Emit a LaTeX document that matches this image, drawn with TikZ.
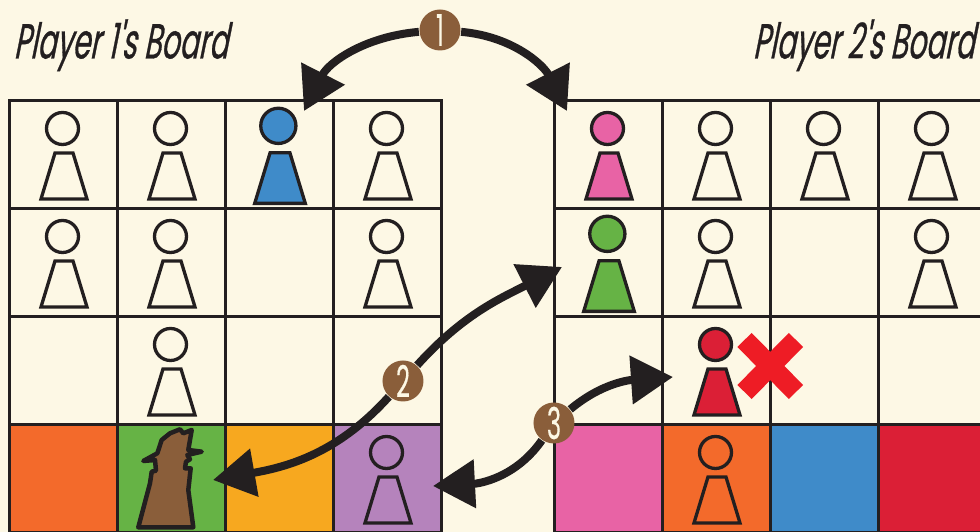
\documentclass[tikz,border=0pt]{standalone}
\usepackage{fontspec}
\usetikzlibrary{arrows.meta}
\newfontfamily\titlefont[FakeStretch=0.575,FakeSlant=0.2,FakeBold=0.6]{Poppins}
\newfontfamily\badgefont[FakeStretch=0.55,FakeBold=0.3]{Poppins}
\definecolor{paper}{HTML}{FDF8E5}
\definecolor{ink}{HTML}{231F20}
\definecolor{pawnblue}{HTML}{3F8BC9}
\definecolor{pawnpink}{HTML}{E863A5}
\definecolor{pawngreen}{HTML}{66B345}
\definecolor{pawnred}{HTML}{DB1F36}
\definecolor{cellorange}{HTML}{F36A2B}
\definecolor{cellamber}{HTML}{F7A81F}
\definecolor{cellpurple}{HTML}{B583BC}
\definecolor{brownie}{HTML}{8A5E3A}
\definecolor{crossred}{HTML}{EE1C25}
\tikzset{
    cell/.style={draw=ink,line width=0.03cm,minimum size=1.08cm,inner sep=0,outer sep=0},
    pawnline/.style={draw=ink,line width=0.033cm,line join=miter},
    pawn/.pic={
        \path[pic actions] (-0.015,0.265) circle (0.16);
        \path[pic actions] (-0.09,0.02) -- (0.09,0.02) -- (0.23,-0.44) -- (-0.23,-0.44) -- cycle;
    },
    badge/.style={circle,fill=brownie,text=paper,minimum size=0.41cm,inner sep=0,font=\badgefont\fontsize{12.5}{13}\selectfont},
    swapline/.style={draw=ink,line width=0.08cm,-{Triangle[length=0.42cm,width=0.47cm]}},
    boardtitle/.style={text=ink,inner sep=0,font=\titlefont\fontsize{14}{14}\selectfont}
}
\begin{document}
\begin{tikzpicture}
    \useasboundingbox (0,0) rectangle (9.8,-5.32);
    \clip (0,0) rectangle (9.8,-5.32);
    \fill[paper] (0,0) rectangle (9.8,-5.32);
    % boards
    \foreach \c in {1,...,4} {
        \foreach \r in {1,2,3} {
            \node[cell] (l\c\r) at (0.64+1.08*\c-1.08,-1.55-1.08*\r+1.08) {};
            \node[cell] (r\c\r) at (6.09+1.08*\c-1.08,-1.55-1.08*\r+1.08) {};
        }
    }
    \foreach \c/\tone in {1/cellorange,2/pawngreen,3/cellamber,4/cellpurple}
        \node[cell,fill=\tone] (l\c4) at (0.64+1.08*\c-1.08,-4.79) {};
    \foreach \c/\tone in {1/pawnpink,2/cellorange,3/pawnblue,4/pawnred}
        \node[cell,fill=\tone] (r\c4) at (6.09+1.08*\c-1.08,-4.79) {};
    % pawns
    \foreach \spot/\tone/\size in {l11/none/1,l21/none/1,l31/pawnblue/1.1,l41/none/1,
            l12/none/1,l22/none/1,l42/none/1,l23/none/1,l44/none/1,
            r11/pawnpink/1,r21/none/1,r31/none/1,r41/none/1,
            r12/pawngreen/1.1,r22/none/1,r42/none/1,r23/pawnred/1,r24/none/1}
        \pic[pawnline,fill=\tone,scale=\size] at (\spot) {pawn};
    % the detective
    \draw[pawnline,line width=0.045cm,fill=brownie,line join=round] (1.383,-5.273) -- (1.50,-4.833) -- (1.517,-4.717)
        -- (1.56,-4.707) -- (1.55,-4.60) -- (1.433,-4.61) -- (1.573,-4.533) -- (1.617,-4.40)
        -- (1.70,-4.333) -- (1.80,-4.293) -- (1.833,-4.333) -- (1.917,-4.30) -- (1.883,-4.50)
        -- (2.017,-4.517) -- (1.873,-4.55) -- (1.90,-4.593) -- (1.86,-4.617) -- (1.85,-4.683)
        -- (1.907,-4.683) -- (1.883,-4.90) -- (1.933,-5.273) -- cycle;
    % cross
    \draw[crossred,line width=0.2cm] (7.445,-3.40) -- (7.96,-3.92);
    \draw[crossred,line width=0.2cm] (7.96,-3.40) -- (7.445,-3.92);
    % titles
    \node[boardtitle,anchor=base west] (title1) at (0.13,-0.585) {Player 1's Board};
    \node[boardtitle,anchor=base east] (title2) at (9.75,-0.585) {Player 2's Board};
    % badges and arrows
    \node[badge] (b1) at (4.40,-0.30) {1};
    \node[badge] (b2) at (4.03,-3.81) {2};
    \node[badge] (b3) at (5.54,-4.23) {3};
    \coordinate (t1a) at (3.04,-1.11);
    \coordinate (t1b) at (5.67,-1.11);
    \coordinate (t2a) at (5.62,-2.67);
    \coordinate (t2b) at (2.13,-4.80);
    \coordinate (t3a) at (6.73,-3.77);
    \coordinate (t3b) at (4.33,-4.86);
    \path
        (b1) edge [swapline,out=185,in=63] (t1a)
        (b1) edge [swapline,out=-5,in=117] (t1b)
        (b2) edge [swapline,out=48,in=207] (t2a)
        (b2) edge [swapline,out=228,in=10] (t2b)
        (b3) edge [swapline,out=40,in=184] (t3a)
        (b3) edge [swapline,out=235,in=3] (t3b);
\end{tikzpicture}
\end{document}
